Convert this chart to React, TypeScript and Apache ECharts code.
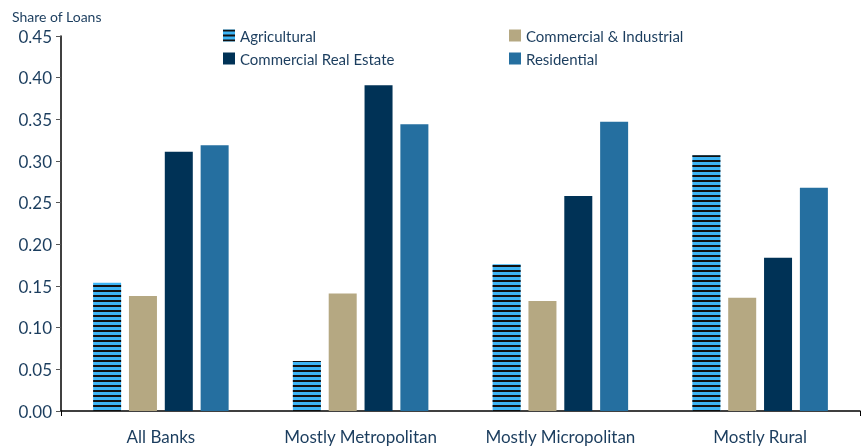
import React, { useEffect, useRef } from "react";
import * as echarts from "echarts";

const categories = ["All Banks", "Mostly Metropolitan", "Mostly Micropolitan", "Mostly Rural"];
const agricultural = [0.154, 0.06, 0.176, 0.307];
const commercialIndustrial = [0.138, 0.141, 0.132, 0.136];
const commercialRealEstate = [0.311, 0.391, 0.258, 0.184];
const residential = [0.319, 0.344, 0.347, 0.268];
const seriesNames = ["Agricultural", "Commercial & Industrial", "Commercial Real Estate", "Residential"];
const yTicks = { min: 0, max: 0.45, interval: 0.05 };

const TEXT = "#1b3d5e";
const FONT = "Lato, sans-serif";

export default function App() {
  const ref = useRef<HTMLDivElement>(null);
  useEffect(() => {
    const chart = echarts.init(ref.current!, null, { renderer: "svg" });
    const colors = ["#3db4f4", "#b5a882", "#003256", "#256fa0"];
    const data = [agricultural, commercialIndustrial, commercialRealEstate, residential];
    const legendPos = [
      { left: 218, top: 23 },
      { left: 504, top: 23 },
      { left: 218, top: 46 },
      { left: 504, top: 46 },
    ];
    chart.setOption({
      animation: false,
      textStyle: { fontFamily: FONT },
      grid: { left: 61, right: 7, top: 36, bottom: 35 },
      legend: seriesNames.map((n, i) => ({
        data: [n],
        left: legendPos[i].left,
        top: legendPos[i].top,
        itemWidth: 12,
        itemHeight: 12,
        itemGap: 8,
        icon: "rect",
        textStyle: { color: TEXT, fontSize: 15, fontFamily: FONT },
        selectedMode: false,
      })),
      graphic: [
        {
          type: "text",
          left: 12,
          top: 9,
          style: { text: "Share of Loans", fill: TEXT, fontSize: 14, fontFamily: FONT },
        },
      ],
      xAxis: {
        type: "category",
        data: categories,
        axisLine: { lineStyle: { color: "#000", width: 1.5 } },
        axisTick: { show: true, interval: (i: number) => i === 0, length: 5, lineStyle: { color: "#000" } },
        axisLabel: {
          color: TEXT,
          fontSize: 17,
          lineHeight: 18,
          margin: 16,
          fontFamily: FONT,
          interval: 0,
        },
      },
      yAxis: {
        type: "value",
        min: yTicks.min,
        max: yTicks.max,
        interval: yTicks.interval,
        splitLine: { show: false },
        axisLine: { show: true, lineStyle: { color: "#000", width: 1.5 } },
        axisTick: { show: true, length: 5, lineStyle: { color: "#555" } },
        axisLabel: {
          color: TEXT,
          fontSize: 17,
          margin: 9,
          fontFamily: FONT,
          formatter: (v: number) => v.toFixed(2),
        },
      },
      series: data.map((d, i) => ({
        name: seriesNames[i],
        type: "bar",
        data: d,
        barWidth: 28,
        barGap: "28%",
        itemStyle: {
          color: colors[i],
          ...(i === 0
            ? {
                decal: {
                  symbol: "rect",
                  symbolSize: 1,
                  color: "#111",
                  dashArrayX: [1, 0],
                  dashArrayY: [1.5, 3],
                  rotation: 0,
                },
              }
            : {}),
        },
      })),
    });
    return () => chart.dispose();
  }, []);
  return (
    <div
      ref={ref}
      style={{ position: "fixed", left: 0, top: 0, width: 867, height: 446 }}
    />
  );
}
